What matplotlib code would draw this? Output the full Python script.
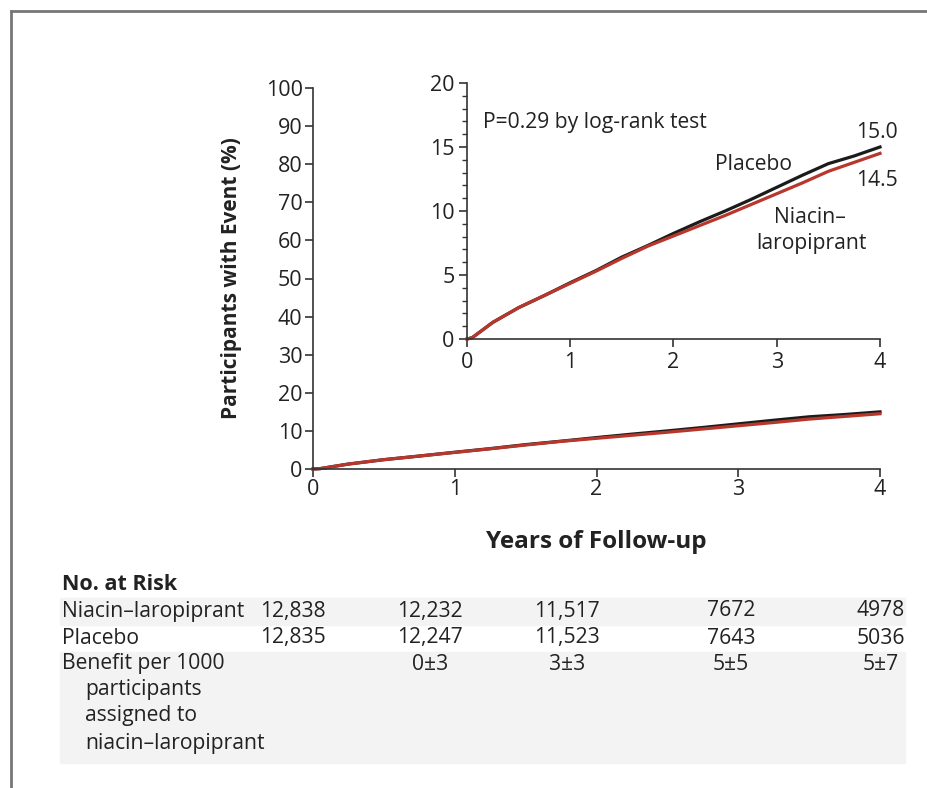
import numpy as np
import matplotlib
matplotlib.use('Agg')
import matplotlib.pyplot as plt
from matplotlib.patches import Rectangle
from matplotlib.lines import Line2D
from matplotlib.ticker import MultipleLocator

plt.rcParams['font.family'] = ['Open Sans', 'DejaVu Sans']

# Cumulative incidence (%)
years = [0, 0.05, 0.25, 0.5, 0.75, 1.0, 1.25, 1.5, 1.75, 2.0, 2.25, 2.5, 2.75, 3.0, 3.25, 3.5, 3.75, 4.0]
placebo = [0, 0.1, 1.3, 2.45, 3.4, 4.4, 5.35, 6.4, 7.3, 8.25, 9.15, 10.0, 10.9, 11.85, 12.8, 13.7, 14.3, 15.0]
niacin = [0, 0.1, 1.3, 2.45, 3.4, 4.35, 5.3, 6.3, 7.25, 8.05, 8.85, 9.65, 10.5, 11.35, 12.2, 13.1, 13.8, 14.5]

# No. at risk table
risk_labels = ['Niacin\u2013laropiprant', 'Placebo']
risk_niacin = ['12,838', '12,232', '11,517', '7672', '4978']
risk_placebo = ['12,835', '12,247', '11,523', '7643', '5036']
benefit = ['', '0\u00b13', '3\u00b13', '5\u00b15', '5\u00b17']
benefit_label = ['Benefit per 1000', 'participants', 'assigned to', 'niacin\u2013laropiprant']

BLACK = '#1b1b1b'
RED = '#b8372d'
AXC = '#333333'
TXT = '#222222'
FS = 15.2
W, H = 928, 788

fig = plt.figure(figsize=(W / 100, H / 100), dpi=100)


def fx(x):
    return x / W


def fy(y):
    return 1 - y / H


def style_axes(ax, pad):
    for s in ['top', 'right']:
        ax.spines[s].set_visible(False)
    for s in ['left', 'bottom']:
        ax.spines[s].set_color(AXC)
        ax.spines[s].set_linewidth(1.2)
    ax.tick_params(which='major', direction='out', length=6, width=1.2,
                   color=AXC, labelsize=15.5, labelcolor=TXT, pad=pad)
    ax.tick_params(which='minor', direction='out', length=3.5, width=1.0, color=AXC)
    ax.patch.set_alpha(0)


# main axes
ax = fig.add_axes([fx(313), fy(469), fx(880) - fx(313), fy(88) - fy(469)])
ax.plot(years, placebo, color=BLACK, lw=2.3, clip_on=False)
ax.plot(years, niacin, color=RED, lw=2.3, clip_on=False)
ax.set_xlim(0, 4)
ax.set_ylim(0, 100)
ax.set_xticks(range(5))
ax.set_yticks(range(0, 101, 10))
style_axes(ax, 1.5)
ax.set_xlabel('Years of Follow-up', fontsize=17.5, fontweight='bold', labelpad=21, color=TXT)
ax.set_ylabel('Participants with Event (%)', fontsize=15, fontweight='bold', labelpad=17, color=TXT)

# inset
ins = fig.add_axes([fx(467), fy(339), fx(880) - fx(467), fy(83) - fy(339)])
ins.set_facecolor('white')
ins.plot(years, placebo, color=BLACK, lw=2.3, clip_on=False)
ins.plot(years, niacin, color=RED, lw=2.3, clip_on=False)
ins.set_xlim(0, 4)
ins.set_ylim(0, 20)
ins.set_xticks(range(5))
ins.set_yticks(range(0, 21, 5))
ins.yaxis.set_minor_locator(MultipleLocator(1))
style_axes(ins, 3)
ins.text(0.155, 16.95, 'P=0.29 by log-rank test', fontsize=FS, color=TXT, va='center')
ins.text(2.77, 13.6, 'Placebo', fontsize=FS, color=TXT, ha='center', va='center')
ins.text(4.17, 16.1, '15.0', fontsize=FS, color=TXT, ha='right', va='center')
ins.text(4.17, 12.4, '14.5', fontsize=FS, color=TXT, ha='right', va='center')
ins.text(3.32, 9.5, 'Niacin\u2013', fontsize=FS, color=TXT, ha='center', va='center')
ins.text(3.34, 7.5, 'laropiprant', fontsize=FS, color=TXT, ha='center', va='center')

# frame lines (top and left)
fig.add_artist(Line2D([fx(11), fx(11)], [0, fy(11)], color='#777777', lw=2))
fig.add_artist(Line2D([fx(11), 1], [fy(11), fy(11)], color='#777777', lw=2))

# table backgrounds
for y0, y1 in [(598, 625), (652, 763)]:
    fig.add_artist(Rectangle((fx(60), fy(y1)), fx(905) - fx(60), fy(y0) - fy(y1),
                             color='#f3f3f3', zorder=0))

fig.text(fx(62), fy(584), 'No. at Risk', fontsize=15.5, fontweight='bold', color=TXT, va='center')

col_x = [293, 430, 567, 731, 881]
rows = [(risk_labels[0], risk_niacin, 611), (risk_labels[1], risk_placebo, 638)]
for label, vals, y in rows:
    fig.text(fx(62), fy(y), label, fontsize=FS, color=TXT, va='center')
    for cx, v in zip(col_x, vals):
        fig.text(fx(cx), fy(y), v, fontsize=FS, color=TXT, ha='center', va='center')

line_y = [664, 690, 716, 743]
for i, (t, y) in enumerate(zip(benefit_label, line_y)):
    fig.text(fx(62 if i == 0 else 85), fy(y), t, fontsize=FS, color=TXT, va='center')
for cx, v in zip(col_x, benefit):
    fig.text(fx(cx), fy(664), v, fontsize=FS, color=TXT, ha='center', va='center')

fig.savefig('out.png', dpi=100, facecolor='white')
